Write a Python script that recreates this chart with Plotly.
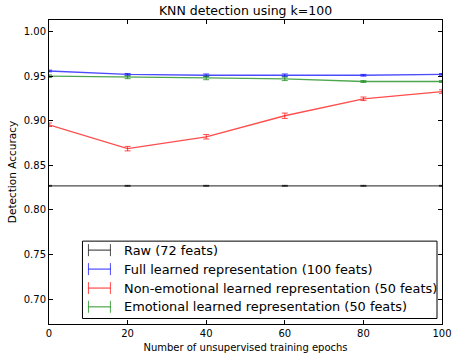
import plotly.graph_objects as go

epochs = [0, 20, 40, 60, 80, 100]
raw = [0.827, 0.827, 0.827, 0.827, 0.827, 0.827]
raw_err = [0.0005, 0.0005, 0.0005, 0.0005, 0.0005, 0.0005]
full = [0.9558, 0.952, 0.951, 0.951, 0.951, 0.952]
full_err = [0.001, 0.001, 0.0015, 0.0015, 0.001, 0.001]
nonemo = [0.8955, 0.8687, 0.882, 0.9056, 0.9246, 0.9327]
nonemo_err = [0.002, 0.0025, 0.0025, 0.003, 0.002, 0.002]
emo = [0.950, 0.9487, 0.948, 0.947, 0.944, 0.944]
emo_err = [0.0015, 0.0015, 0.002, 0.002, 0.001, 0.001]

names = ["Raw (72 feats)", "Full learned representation (100 feats)",
         "Non-emotional learned representation (50 feats)",
         "Emotional learned representation (50 feats)"]
series = [raw, full, nonemo, emo]
errs = [raw_err, full_err, nonemo_err, emo_err]
colors = ["rgba(0,0,0,0.7)", "rgba(0,0,255,0.7)", "rgba(255,0,0,0.7)", "rgba(0,128,0,0.7)"]

W, H = 452, 354
L, R, T, B = 48.5, 10, 20, 29.5
pw, ph = W - L - R, H - T - B

def px(x):
    return (x - L) / pw

def py(y):
    return (H - B - y) / ph

fig = go.Figure()
for n, s, e, c in zip(names, series, errs, colors):
    fig.add_trace(go.Scatter(
        x=epochs, y=s, name=n, mode="lines", showlegend=False,
        line=dict(color=c, width=1.3),
        error_y=dict(type="data", array=e, color=c, thickness=1, width=3),
    ))

# manual legend (matplotlib-style errorbar handles)
shapes = [dict(type="rect", xref="paper", yref="paper",
               x0=px(82), x1=px(437), y0=py(319), y1=py(241.5),
               line=dict(color="black", width=1), fillcolor="white", layer="above")]
annotations = []
row_y = [250.5, 269.5, 288.5, 307.3]
for n, c, ry in zip(names, colors, row_y):
    shapes.append(dict(type="line", xref="paper", yref="paper", x0=px(88), x1=px(110),
                       y0=py(ry), y1=py(ry), line=dict(color=c, width=1.2), layer="above"))
    for cx in (88, 110):
        shapes.append(dict(type="line", xref="paper", yref="paper", x0=px(cx), x1=px(cx),
                           y0=py(ry - 6), y1=py(ry + 6), line=dict(color=c, width=1), layer="above"))
    annotations.append(dict(text=n, xref="paper", yref="paper", x=px(122), y=py(ry),
                            xanchor="left", yanchor="middle", showarrow=False,
                            font=dict(size=12.9, color="black")))

axis_common = dict(showline=True, linecolor="black", linewidth=1, mirror="allticks",
                   ticks="inside", ticklen=4, tickcolor="black", showgrid=False,
                   zeroline=False, automargin=False, tickfont=dict(size=10, color="black"))

fig.update_layout(
    width=W, height=H,
    margin=dict(l=L, r=R, t=T, b=B),
    paper_bgcolor="white", plot_bgcolor="white",
    font=dict(family="DejaVu Sans", color="black"),
    title=dict(text="KNN detection using k=100", x=245.5 / W, xanchor="center", xref="container",
               y=1 - 11 / H, yanchor="middle", yref="container", font=dict(size=12.5)),
    xaxis=dict(range=[0, 100], tickvals=[0, 20, 40, 60, 80, 100],
               title=dict(text="Number of unsupervised training epochs", font=dict(size=10), standoff=5),
               **axis_common),
    yaxis=dict(range=[0.672, 1.013], tickvals=[0.70, 0.75, 0.80, 0.85, 0.90, 0.95, 1.00],
               tickformat=".2f",
               title=dict(text="Detection Accuracy", font=dict(size=10.5), standoff=5),
               **axis_common),
    shapes=shapes, annotations=annotations,
    showlegend=False,
)

fig.write_html("out.html", config={"displayModeBar": False},
               post_script="document.body.style.margin='0';")
